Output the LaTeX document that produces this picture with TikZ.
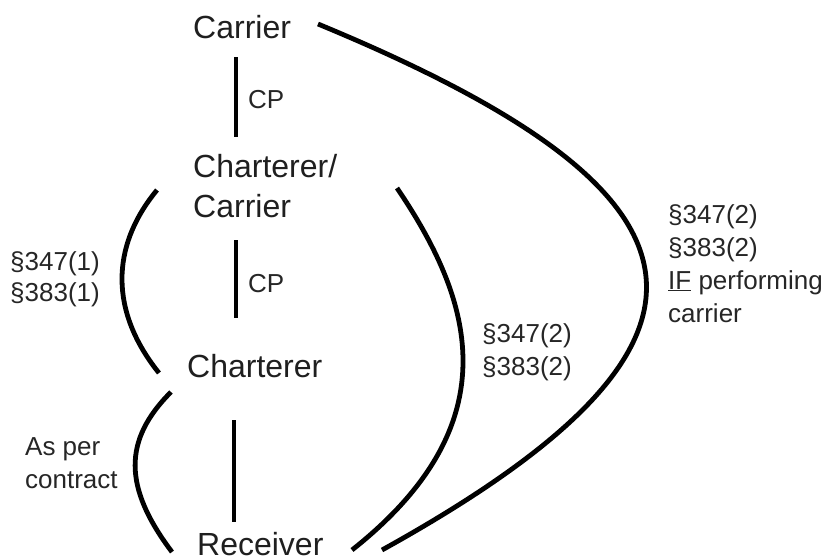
\documentclass[tikz,border=0pt]{standalone}
\usepackage{fontspec}
\setmainfont{Liberation Sans}
\usetikzlibrary{calc}
\begin{document}
\begin{tikzpicture}[x={(1pt,0)}, y={(0,-1pt)},
  party/.style={inner sep=0pt, anchor=base west, align=left,
    font=\fontsize{32}{40}\selectfont, text=black!88},
  note/.style={inner sep=0pt, anchor=base west, align=left,
    font=\fontsize{26}{33}\selectfont, text=black!85},
  link/.style={line width=3.2pt},
  bracket/.style={line width=4.8pt}]
\useasboundingbox (0,0) rectangle (829,557);

% parties in the chain (multi-line nodes sit on their last baseline)
\node[party] (carrier)   at (193,38)  {Carrier};
\node[party] (cc)        at (193,217) {Charterer/\\Carrier};
\node[party] (charterer) at (187,377) {Charterer};
\node[party] (receiver)  at (197,555) {Receiver};

% contract labels
\node[note] (cp1) at (248,108) {CP};
\node[note] (cp2) at (248,292) {CP};
\node[note, font=\fontsize{26}{31}\selectfont] (lawL) at (10,301) {§347(1)\\§383(1)};
\node[note] (asper) at (25,488) {As per\\contract};
\node[note] (lawM) at (482,375) {§347(2)\\§383(2)};
\node[note] (lawR) at (668,322) {§347(2)\\§383(2)\\\underline{IF} performing\\carrier};

% charter-party links
\draw[link] ($(carrier.base west)+(43,19)$) -- ($(cc.base west)+(43,-80)$);
\draw[link] ($(cc.base west)+(43,23)$) -- ($(charterer.base west)+(49,-59)$);
\draw[link] ($(charterer.base west)+(47,43)$) -- ($(receiver.base west)+(37,-33)$);

% liability brackets
\draw[bracket] ($(cc.base west)+(-36,-27)$)
  .. controls +(-47,57) and +(-49,-61) .. ($(charterer.base west)+(-28,-4)$);
\draw[bracket] ($(charterer.base west)+(-16,15)$)
  .. controls +(-48,48) and +(-49,-65) .. ($(receiver.base west)+(-25,-3)$);
\draw[bracket] ($(cc.base west)+(204,-29)$)
  .. controls +(73,108) and +(163,-129) .. ($(receiver.base west)+(155,-5)$);
\draw[bracket] ($(carrier.base west)+(125,-14)$)
  .. controls +(404,167) and +(383,-212) .. ($(receiver.base west)+(185,-5)$);
\end{tikzpicture}
\end{document}
